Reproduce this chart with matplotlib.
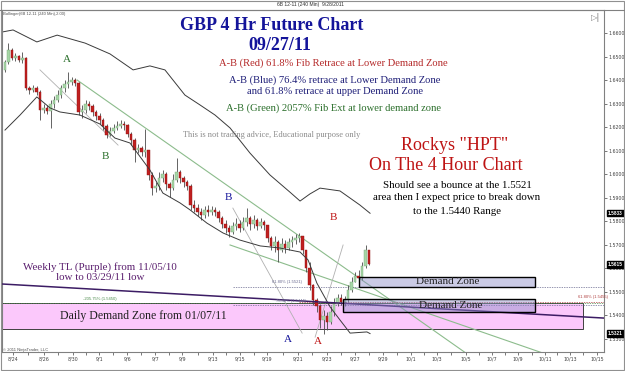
import numpy as np
import matplotlib
matplotlib.use("Agg")
import matplotlib.pyplot as plt
from matplotlib.patches import Rectangle

W, H = 625, 371

# --- price bars (open = previous close) ---
first_open = 1.6443
closes = [1.6477, 1.6528, 1.6494, 1.6502, 1.6485, 1.6494, 1.6366, 1.6357, 1.6366, 1.6349,
          1.6272, 1.6281, 1.6268, 1.6298, 1.6315, 1.6336, 1.6366, 1.6383, 1.6391, 1.6400,
          1.6387, 1.6264, 1.6272, 1.6298, 1.6289, 1.6264, 1.6247, 1.6230, 1.6204, 1.6166,
          1.6183, 1.6196, 1.6204, 1.6213, 1.6209, 1.6170, 1.6145, 1.6102, 1.6111, 1.6094,
          1.6102, 1.5996, 1.5940, 1.5949, 1.5983, 1.6000, 1.5957, 1.5940, 1.5974, 1.6009,
          1.5983, 1.5966, 1.5949, 1.5868, 1.5855, 1.5838, 1.5826, 1.5847, 1.5838, 1.5847,
          1.5838, 1.5813, 1.5787, 1.5770, 1.5753, 1.5779, 1.5787, 1.5770, 1.5796, 1.5813,
          1.5787, 1.5804, 1.5779, 1.5796, 1.5783, 1.5728, 1.5694, 1.5711, 1.5677, 1.5702,
          1.5685, 1.5711, 1.5719, 1.5728, 1.5736, 1.5677, 1.5600, 1.5528, 1.5464, 1.5438,
          1.5379, 1.5396, 1.5370, 1.5413, 1.5447, 1.5472, 1.5455, 1.5464, 1.5506, 1.5540,
          1.5566, 1.5557, 1.5609, 1.5677, 1.5615]
highs = [1.6485, 1.6557, 1.6536, 1.6515, 1.6506, 1.6519, 1.6498, 1.6374, 1.6379, 1.6374,
         1.6357, 1.6298, 1.6294, 1.6315, 1.6332, 1.6357, 1.6379, 1.6400, 1.6434, 1.6413,
         1.6409, 1.6391, 1.6294, 1.6315, 1.6311, 1.6298, 1.6272, 1.6260, 1.6238, 1.6213,
         1.6200, 1.6213, 1.6226, 1.6230, 1.6226, 1.6213, 1.6179, 1.6153, 1.6128, 1.6119,
         1.6191, 1.6102, 1.6009, 1.5966, 1.6009, 1.6017, 1.6009, 1.5966, 1.6000, 1.6068,
         1.6017, 1.5991, 1.5974, 1.5957, 1.5889, 1.5872, 1.5855, 1.5864, 1.5868, 1.5864,
         1.5860, 1.5847, 1.5821, 1.5804, 1.5783, 1.5796, 1.5813, 1.5804, 1.5817, 1.5855,
         1.5821, 1.5826, 1.5813, 1.5813, 1.5804, 1.5779, 1.5736, 1.5736, 1.5719, 1.5728,
         1.5719, 1.5728, 1.5736, 1.5745, 1.5749, 1.5736, 1.5677, 1.5626, 1.5532, 1.5472,
         1.5447, 1.5421, 1.5413, 1.5438, 1.5472, 1.5489, 1.5489, 1.5481, 1.5528, 1.5562,
         1.5583, 1.5591, 1.5626, 1.5698, 1.5677]
lows = [1.6434, 1.6468, 1.6485, 1.6481, 1.6477, 1.6472, 1.6357, 1.6340, 1.6349, 1.6336,
        1.6230, 1.6260, 1.6255, 1.6196, 1.6281, 1.6306, 1.6323, 1.6349, 1.6366, 1.6379,
        1.6374, 1.6251, 1.6238, 1.6260, 1.6272, 1.6247, 1.6230, 1.6213, 1.6187, 1.6153,
        1.6162, 1.6174, 1.6187, 1.6196, 1.6187, 1.6157, 1.6123, 1.6051, 1.6089, 1.6077,
        1.6072, 1.5974, 1.5911, 1.5923, 1.5932, 1.5966, 1.5932, 1.5902, 1.5932, 1.5966,
        1.5962, 1.5945, 1.5932, 1.5847, 1.5838, 1.5821, 1.5804, 1.5813, 1.5821, 1.5826,
        1.5821, 1.5796, 1.5770, 1.5749, 1.5732, 1.5745, 1.5762, 1.5753, 1.5762, 1.5779,
        1.5762, 1.5770, 1.5762, 1.5770, 1.5762, 1.5711, 1.5677, 1.5668, 1.5626, 1.5668,
        1.5664, 1.5677, 1.5689, 1.5702, 1.5711, 1.5660, 1.5583, 1.5506, 1.5443, 1.5413,
        1.5345, 1.5321, 1.5336, 1.5362, 1.5396, 1.5438, 1.5443, 1.5438, 1.5455, 1.5498,
        1.5540, 1.5536, 1.5549, 1.5600, 1.5613]

# Bollinger bands (bar index, price)
upper_x = [-0.9, 2.3, 9.1, 14.9, 22.9, 30.0, 36.6, 41.4, 45.7, 51.4, 55.7, 60.0, 64.3,
           70.0, 75.7, 81.4, 84.3, 87.1, 90.0, 95.7, 101.4, 104.3]
upper_y = [1.6604, 1.6613, 1.6562, 1.6591, 1.6557, 1.6511, 1.6443, 1.6460, 1.6443, 1.6336,
           1.6294, 1.6251, 1.6196, 1.6089, 1.5996, 1.5923, 1.5885, 1.5915, 1.5940, 1.5928,
           1.5868, 1.5833]
lower_x = [0.0, 4.3, 9.1, 12.9, 15.7, 21.4, 27.1, 31.4, 35.7, 41.4, 45.1, 50.0, 52.9, 57.7,
           62.3, 67.1, 72.9, 78.6, 84.3, 86.6, 89.1, 92.9, 95.7, 98.6, 103.4, 104.3]
lower_y = [1.6187, 1.6251, 1.6328, 1.6281, 1.6264, 1.6251, 1.6213, 1.6153, 1.6132, 1.6017,
           1.5919, 1.5877, 1.5847, 1.5791, 1.5749, 1.5719, 1.5694, 1.5685, 1.5668, 1.5634,
           1.5536, 1.5434, 1.5379, 1.5323, 1.5328, 1.5321]

# drawn lines: (x0, p0, x1, p1)
green_lines = [(20.6, 1.6400, 131.7, 1.5238), (64.3, 1.5698, 153.7, 1.5238)]
fib_tool_lines = [(10.0, 1.6443, 32.3, 1.6123), (65.1, 1.5855, 84.9, 1.5323),
                  (88.6, 1.5306, 96.6, 1.5698)]
weekly_tl = (-0.9, 1.5532, 171.1, 1.5387)

# fib levels: price, start bar, colour, label
fib_levels = [1.5521, 1.5444, 1.5450, 1.5455]
fib_start = [65, 65, -1, 84]
fib_colors = ["#6a6a90", "#6a6a90", "#4a8a4a", "#b04040"]

# zones: x0, x1, top, bottom
daily_zone = (-0.9, 165.1, 1.5451, 1.5340)
upper_zone = (101.1, 151.4, 1.5562, 1.5519)
lower_zone = (96.6, 151.4, 1.5468, 1.5413)

date_labels = ["8/24", "8/26", "8/30", "9/1", "9/6", "9/7", "9/9", "9/13", "9/15", "9/19",
               "9/21", "9/23", "9/27", "9/29", "10/1", "10/3", "10/5", "10/7", "10/9",
               "10/11", "10/13", "10/15"]
date_ticks = [2.3, 11.1, 19.4, 26.9, 34.9, 42.9, 50.6, 59.4, 67.1, 74.9, 83.7, 92.0, 100.0,
              108.0, 116.0, 123.4, 131.7, 139.1, 146.6, 154.3, 161.4, 169.1]
price_ticks = [1.53, 1.54, 1.55, 1.56, 1.57, 1.58, 1.59, 1.60, 1.61, 1.62, 1.63, 1.64,
               1.65, 1.66]
marker_prices = [1.5833, 1.5615, 1.5321]

fig = plt.figure(figsize=(W / 100, H / 100), dpi=100)
ax = fig.add_axes([2 / W, 19 / H, 602 / W, 342 / H])
ax.set_xlim(-0.857, 171.14)
ax.set_ylim(1.52426, 1.66979)

# pink daily zone first (behind everything)
x0, x1, top, bot = daily_zone
ax.add_patch(Rectangle((x0, bot), x1 - x0, top - bot, facecolor="#fbc8fb",
                       edgecolor="#404040", lw=0.7, zorder=1))

# candles
idx = np.arange(len(closes))
c = np.array(closes)
o = np.concatenate([[first_open], c[:-1]])
hi = np.maximum(np.array(highs), np.maximum(o, c))
lo = np.minimum(np.array(lows), np.minimum(o, c))
up = c >= o
ax.vlines(idx, lo, hi, color="#4a4a4a", lw=0.6, zorder=3)
body = np.maximum(np.abs(c - o), 0.00012)
ax.bar(idx[up], body[up], bottom=np.minimum(o, c)[up], width=0.7,
       color="#a6d6a6", edgecolor="#7aa87a", lw=0.3, zorder=4)
ax.bar(idx[~up], body[~up], bottom=np.minimum(o, c)[~up], width=0.7,
       color="#c02020", edgecolor="#901010", lw=0.3, zorder=4)

# bollinger bands
ax.plot(upper_x, upper_y, color="#3a3a3a", lw=0.7, zorder=2)
ax.plot(lower_x, lower_y, color="#3a3a3a", lw=0.7, zorder=5)

# trend lines
for a, p0, b, p1 in green_lines:
    ax.plot([a, b], [p0, p1], color="#8cbc8c", lw=0.8, zorder=2)
for a, p0, b, p1 in fib_tool_lines:
    ax.plot([a, b], [p0, p1], color="#b0b0b0", lw=0.6, zorder=2)
a, p0, b, p1 = weekly_tl
ax.plot([a, b], [p0, p1], color="#3c1c64", lw=1.1, zorder=6)

# fib level lines
for lev, st, col in zip(fib_levels, fib_start, fib_colors):
    ax.plot([st, 171.14], [lev, lev], color=col, lw=0.5, ls=(0, (2, 1.5)), zorder=2)

# demand zone boxes
for (zx0, zx1, zt, zb) in (upper_zone, lower_zone):
    ax.add_patch(Rectangle((zx0, zb), zx1 - zx0, zt - zb, facecolor=(0.55, 0.55, 0.78, 0.45),
                           edgecolor="black", lw=1.0, zorder=7))

# axes styling
ax.yaxis.tick_right()
ax.set_yticks(price_ticks)
ax.set_yticklabels([f"{p:.4f}" for p in price_ticks])
ax.set_xticks(date_ticks)
ax.set_xticklabels(date_labels)
ax.set_xticks([(date_ticks[i] + date_ticks[i + 1]) / 2 for i in range(len(date_ticks) - 1)],
              minor=True)
ax.tick_params(axis="both", labelsize=3.4, colors="#404040", length=2, width=0.5, pad=1.5)
ax.tick_params(axis="x", which="minor", length=2, width=0.5, colors="#404040")
for s in ax.spines.values():
    s.set_color("#808080")
    s.set_linewidth(0.8)

for p in marker_prices:
    ax.annotate(f"{p:.4f}", xy=(1.0, p), xycoords=("axes fraction", "data"),
                xytext=(3, 0), textcoords="offset points", va="center", ha="left",
                fontsize=3.4, color="white", fontweight="bold", family="Liberation Sans",
                bbox=dict(boxstyle="square,pad=0.15", fc="black", ec="black"))

# figure texts placed by pixel position
def ftext(px, py, s, **kw):
    kw.setdefault("ha", "center")
    kw.setdefault("va", "center")
    kw.setdefault("family", "Liberation Serif")
    fig.text(px / W, 1 - py / H, s, **kw)

navy = "#14149a"
ftext(310, 4.5, "6B 12-11 (240 Min)  9/28/2011", fontsize=3.6, family="Liberation Sans",
      color="#303030")
ftext(3, 14, "Bollinger(6B 12-11 (240 Min),2.00)", fontsize=3.0, ha="left",
      family="Liberation Sans", color="#505050")
ftext(3, 350, "\u00a9 2011 NinjaTrader, LLC", fontsize=3.0, ha="left",
      family="Liberation Sans", color="#505050")
ftext(596, 17, "\u25b7|", fontsize=6, family="DejaVu Sans", color="#808080")

ftext(272, 25, "GBP 4 Hr Future Chart", fontsize=13, fontweight="bold", color=navy)
ftext(280, 46, "09/27/11", fontsize=13, fontweight="bold", color=navy)
ftext(333, 63, "A-B (Red) 61.8% Fib Retrace at Lower Demand Zone", fontsize=7.6,
      color="#b42828")
ftext(335, 80, "A-B (Blue) 76.4% retrace at Lower Demand Zone", fontsize=7.6, color="#1e1e78")
ftext(335, 91, "and 61.8% retrace at upper Demand Zone", fontsize=7.6, color="#1e1e78")
ftext(333, 108, "A-B (Green) 2057% Fib Ext at lower demand zone", fontsize=7.6,
      color="#2a6e2a")
ftext(272, 135, "This is not trading advice, Educational purpose only", fontsize=6.0,
      color="#8a8a8a")
ftext(455, 145, 'Rockys "HPT"', fontsize=13, color="#be1414")
ftext(446, 166, "On The 4 Hour Chart", fontsize=13, color="#be1414")
ftext(457, 186, "Should see a bounce at the 1.5521", fontsize=7.8, color="black")
ftext(457, 198, "area then I expect price to break down", fontsize=7.8, color="black")
ftext(457, 211, "to the 1.5440 Range", fontsize=7.8, color="black")
ftext(100, 267, "Weekly TL (Purple) from 11/05/10", fontsize=7.9, color="#5a1e6e")
ftext(100, 278, "low to 03/29/11 low", fontsize=7.9, color="#5a1e6e")
ftext(143, 316, "Daily Demand Zone from 01/07/11", fontsize=8.5, color="#202020")
ftext(448, 281, "Demand Zone", fontsize=8, color="#202020")
ftext(451, 306, "Demand Zone", fontsize=8, color="#202020")

for px, py, s, col in [(67, 59, "A", "#2a6e2a"), (105, 157, "B", "#2a6e2a"),
                       (228, 198, "B", navy), (288, 340, "A", navy),
                       (333, 217, "B", "#be1414"), (318, 341, "A", "#be1414")]:
    ftext(px, py, s, fontsize=8, color=col)

ftext(287, 282.5, "61.80% (1.5521)", fontsize=3.0, family="Liberation Sans", color="#6a6a90")
ftext(291, 301, "76.40% (1.5444)", fontsize=3.0, family="Liberation Sans", color="#6a6a90")
ftext(100, 299, "-205.75% (1.5450)", fontsize=3.0, family="Liberation Sans", color="#4a8a4a")
ftext(593, 297, "61.80% (1.5455)", fontsize=3.0, family="Liberation Sans", color="#b04040")

# outer frame lines
fig.add_artist(plt.Line2D([0, 1], [1 - 10 / H, 1 - 10 / H], color="#808080", lw=0.8))
fig.add_artist(Rectangle((0.5 / W, 1 / H), (W - 1.5) / W, (H - 2) / H, fill=False,
                         ec="#909090", lw=0.8, transform=fig.transFigure))

fig.savefig("out.png", dpi=100)
